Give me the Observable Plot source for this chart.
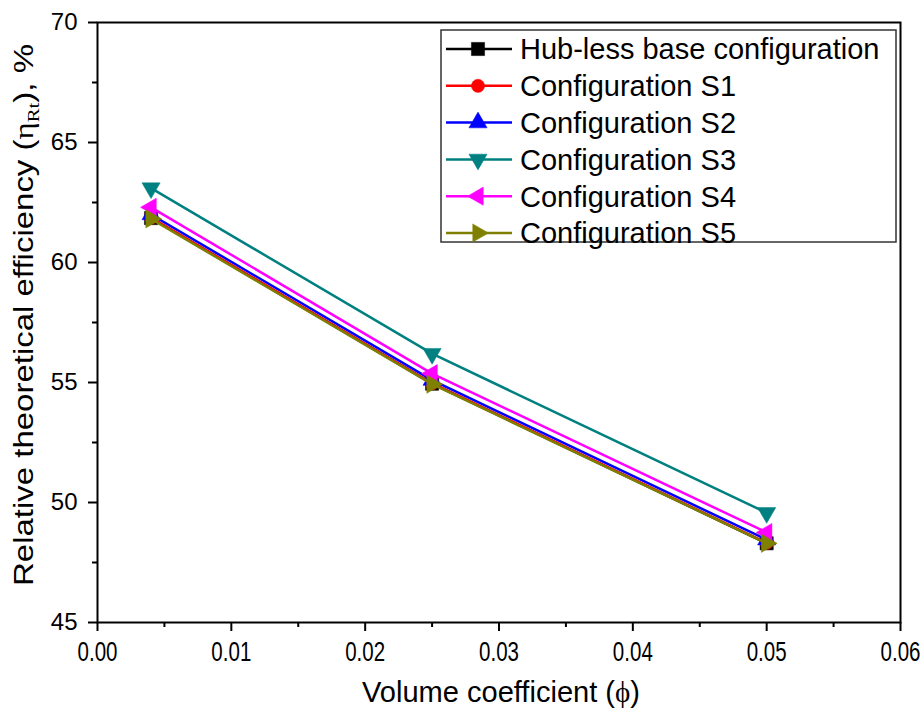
<!DOCTYPE html>
<html>
<head>
<meta charset="utf-8">
<script src="https://cdn.jsdelivr.net/npm/d3@7"></script>
<script src="https://cdn.jsdelivr.net/npm/@observablehq/plot@0.6"></script>
<style>
  html, body { margin: 0; padding: 0; background: #fff; }
  #wrap { position: relative; width: 922px; height: 712px; }
  #legend { position: absolute; left: 0; top: 0; }
</style>
</head>
<body>
<div id="wrap"></div>
<script>
// ---- data ----
const phi = [0.004, 0.025, 0.05];
const seriesNames = ["Hub-less base configuration", "Configuration S1", "Configuration S2", "Configuration S3", "Configuration S4", "Configuration S5"];
const seriesColors = ["#000000", "#ff0000", "#0000ff", "#008080", "#ff00ff", "#808000"];
const baseVals = [61.85, 54.95, 48.30];
const s1Vals = [61.87, 54.97, 48.32];
const s2Vals = [62.00, 55.10, 48.45];
const s3Vals = [63.10, 56.20, 49.57];
const s4Vals = [62.30, 55.37, 48.75];
const s5Vals = [61.82, 54.93, 48.30];
const xTicks = [0, 0.01, 0.02, 0.03, 0.04, 0.05, 0.06];
const xMinor = [0.005, 0.015, 0.025, 0.035, 0.045, 0.055];
const yTicks = [45, 50, 55, 60, 65, 70];
const yMinor = [47.5, 52.5, 57.5, 62.5, 67.5];

const allVals = [baseVals, s1Vals, s2Vals, s3Vals, s4Vals, s5Vals];

// ---- custom symbols ----
function tri(angleDeg) {
  return {
    draw(ctx, size) {
      const r = Math.sqrt(size / Math.PI);
      const R = r * 1.75;
      const a0 = angleDeg * Math.PI / 180;
      for (let i = 0; i < 3; i++) {
        const a = a0 + i * 2 * Math.PI / 3;
        const x = R * Math.cos(a), y = R * Math.sin(a);
        if (i === 0) ctx.moveTo(x, y); else ctx.lineTo(x, y);
      }
      ctx.closePath();
    }
  };
}
const sq = {
  draw(ctx, size) {
    const r = Math.sqrt(size / Math.PI) * 1.1;
    ctx.rect(-r, -r, 2 * r, 2 * r);
  }
};
const circ = {
  draw(ctx, size) {
    const r = Math.sqrt(size / Math.PI) * 1.1;
    ctx.moveTo(r, 0);
    ctx.arc(0, 0, r, 0, 2 * Math.PI);
  }
};
const symbols = [sq, circ, tri(-90), tri(90), tri(180), tri(0)];

const FONT = '"Liberation Sans", Arial, sans-serif';
const SERIF = '"Liberation Serif", "Times New Roman", serif';

const marks = [];
seriesNames.forEach((name, i) => {
  const rows = phi.map((x, j) => ({x, y: allVals[i][j]}));
  marks.push(Plot.line(rows, {x: "x", y: "y", stroke: seriesColors[i], strokeWidth: 2.5}));
  marks.push(Plot.dot(rows, {x: "x", y: "y", r: 6, symbol: symbols[i], fill: seriesColors[i], stroke: seriesColors[i], strokeWidth: 0.5}));
});

const chart = Plot.plot({
  width: 922,
  height: 712,
  marginLeft: 97,
  marginRight: 22,
  marginTop: 22,
  marginBottom: 90,
  style: {fontFamily: FONT, color: "#000", background: "#fff"},
  x: {domain: [0, 0.06], label: null},
  y: {domain: [45, 70], label: null},
  marks: [
    Plot.axisX(xTicks, {tickSize: 9, tickPadding: 10, tickFormat: d3.format(".2f"), fontSize: 27, stroke: "#000", strokeWidth: 2, label: null}),
    Plot.axisX(xMinor, {tickSize: 5, tickFormat: () => "", stroke: "#000", strokeWidth: 2, label: null}),
    Plot.axisY(yTicks, {tickSize: 9, tickPadding: 11, fontSize: 24, stroke: "#000", strokeWidth: 2, label: null}),
    Plot.axisY(yMinor, {tickSize: 5, tickFormat: () => "", stroke: "#000", strokeWidth: 2, label: null}),
    ...marks,
    Plot.frame({stroke: "#000", strokeWidth: 2})
  ]
});

document.getElementById("wrap").appendChild(chart);

const svg = d3.select(chart);

// condensed look for the x tick labels (horizontal squeeze around each label's anchor)
svg.selectAll("g[aria-label='x-axis tick label'] text").each(function () {
  const t = this.getAttribute("transform");
  if (t) {
    this.setAttribute("transform", t + " scale(0.76,1)");
  } else {
    const x = +this.getAttribute("x") || 0, y = +this.getAttribute("y") || 0;
    this.setAttribute("x", 0); this.setAttribute("y", 0);
    this.setAttribute("transform", `translate(${x},${y}) scale(0.76,1)`);
  }
});

// y axis title
const yt = svg.append("text")
  .attr("transform", "translate(33,315) rotate(-90)")
  .attr("text-anchor", "middle")
  .attr("font-family", FONT)
  .attr("font-size", 27)
  .attr("fill", "#000")
  .attr("textLength", 542)
  .attr("lengthAdjust", "spacingAndGlyphs");
yt.append("tspan").text("Relative theoretical efficiency (");
yt.append("tspan").attr("font-family", SERIF).text("η");
yt.append("tspan").attr("font-family", SERIF).attr("font-size", 17).attr("dy", 6).text("Rt");
yt.append("tspan").attr("dy", -6).text("), %");

// x axis title
const xt = svg.append("text")
  .attr("x", 501).attr("y", 702)
  .attr("text-anchor", "middle")
  .attr("font-family", FONT)
  .attr("font-size", 29)
  .attr("fill", "#000")
  .attr("textLength", 278)
  .attr("lengthAdjust", "spacingAndGlyphs");
xt.append("tspan").text("Volume coefficient (");
xt.append("tspan").attr("font-family", SERIF).text("ϕ");
xt.append("tspan").text(")");

// ---- legend (overlay) ----
const lg = d3.select("#wrap").append("svg")
  .attr("id", "legend")
  .attr("width", 922).attr("height", 260)
  .style("pointer-events", "none");
lg.append("rect")
  .attr("x", 441).attr("y", 30).attr("width", 455).attr("height", 212)
  .attr("fill", "#fff").attr("stroke", "#333").attr("stroke-width", 1.5);
seriesNames.forEach((name, i) => {
  const cy = 49 + i * 36.8;
  const g = lg.append("g");
  g.append("line").attr("x1", 446).attr("x2", 512).attr("y1", cy).attr("y2", cy)
    .attr("stroke", seriesColors[i]).attr("stroke-width", 2.5);
  g.append("path")
    .attr("transform", `translate(478,${cy})`)
    .attr("d", d3.symbol(symbols[i], 6 * 6 * Math.PI)())
    .attr("fill", seriesColors[i]).attr("stroke", seriesColors[i]).attr("stroke-width", 0.5);
  g.append("text").attr("x", 520).attr("y", cy).attr("dy", "0.36em")
    .attr("font-family", FONT).attr("font-size", 29).attr("fill", "#000")
    .text(name);
});
</script>
</body>
</html>
